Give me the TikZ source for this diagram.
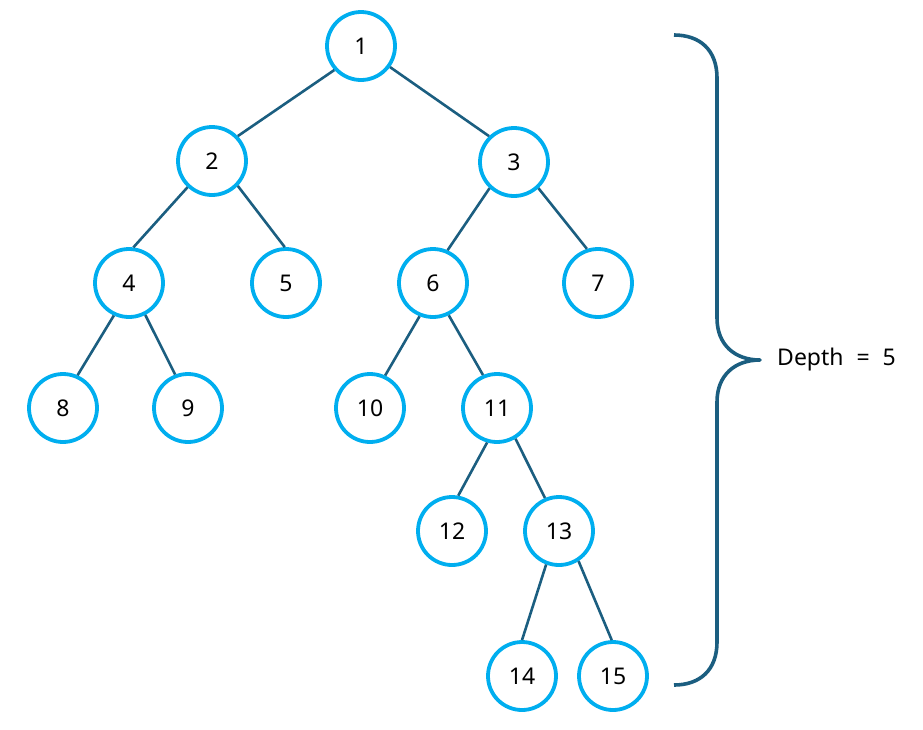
\documentclass[tikz,border=0pt]{standalone}
\usepackage{fontspec}
\setmainfont{Noto Sans}
\usepackage{tikz}
\usetikzlibrary{positioning}
\definecolor{ringblue}{RGB}{0,174,239}
\definecolor{edgeblue}{RGB}{27,94,128}
\tikzset{
  treenode/.style={circle,draw=ringblue,line width=3.8pt,minimum size=68pt,inner sep=0pt,font=\fontsize{23}{26}\selectfont},
  treeedge/.style={draw=edgeblue,line width=2.6pt},
  bracepath/.style={draw=edgeblue,line width=3.6pt,line cap=butt}
}
\begin{document}
\begin{tikzpicture}[line join=round,x=1pt,y=-1pt]
\useasboundingbox (0,0) rectangle (923,729);
\node[treenode] (n1) at (361,46) {1};
\node[treenode] (n2) at (212,161) {2};
\node[treenode] (n3) at (514,162) {3};
\node[treenode] (n4) at (129,283) {4};
\node[treenode] (n5) at (286,283) {5};
\node[treenode] (n6) at (433,283) {6};
\node[treenode] (n7) at (598,283) {7};
\node[treenode] (n8) at (63,408) {8};
\node[treenode] (n9) at (188,408) {9};
\node[treenode] (n10) at (370,408) {10};
\node[treenode] (n11) at (497,408) {11};
\node[treenode] (n12) at (452,531) {12};
\node[treenode] (n13) at (559,531) {13};
\node[treenode] (n14) at (522,676) {14};
\node[treenode] (n15) at (613,676) {15};
\draw[treeedge] (n1.222) -- (n2.44);
\draw[treeedge] (n1.324) -- (n3.134);
\draw[treeedge] (n2.227) -- (n4.83);
\draw[treeedge] (n2.316) -- (n5.92);
\draw[treeedge] (n3.227) -- (n6.66);
\draw[treeedge] (n3.313) -- (n7.108);
\draw[treeedge] (n4.245) -- (n8.66);
\draw[treeedge] (n4.297) -- (n9.111);
\draw[treeedge] (n6.248) -- (n10.65);
\draw[treeedge] (n6.296) -- (n11.113);
\draw[treeedge] (n11.254) -- (n12.80);
\draw[treeedge] (n11.301) -- (n13.113);
\draw[treeedge] (n13.249) -- (n14.90);
\draw[treeedge] (n13.303) -- (n15.92);
% brace
\coordinate (btop) at (674,35);
\coordinate (btip) at (760,360);
\coordinate (bbot) at (674,685);
\draw[bracepath] (btop) .. controls (700,35) and (717,50) .. (717,78) -- (717,318)
  .. controls (717,345) and (735,360) .. (btip)
  .. controls (735,360) and (717,375) .. (717,402) -- (717,642)
  .. controls (717,670) and (700,685) .. (bbot);
\node[anchor=west,inner sep=0pt,font=\fontsize{23}{26}\selectfont] (depth) at (777,360) {Depth\hspace{7pt} = \hspace{7pt}5};
\end{tikzpicture}
\end{document}
